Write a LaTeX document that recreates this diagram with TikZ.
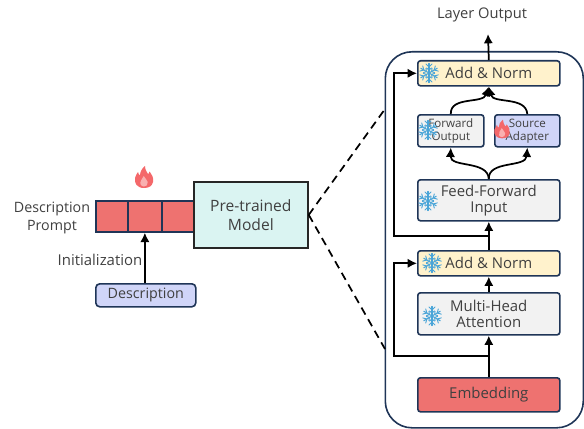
\documentclass[tikz,border=0pt]{standalone}
\usepackage{fontspec}
\setmainfont{Open Sans}
\usetikzlibrary{arrows.meta}
\definecolor{navy}{HTML}{1F3557}
\definecolor{txt}{HTML}{404040}
\definecolor{redf}{HTML}{EE7270}
\definecolor{yel}{HTML}{FFF2CC}
\definecolor{gry}{HTML}{F2F2F2}
\definecolor{blu}{HTML}{D0D5F8}
\definecolor{tea}{HTML}{DAF4F2}
\definecolor{ice}{HTML}{4AA5D8}
\definecolor{flm}{HTML}{F4686A}
\definecolor{flmi}{HTML}{F9B0B0}
\tikzset{
  x=0.75pt,y=-0.75pt,
  blk/.style={draw=navy,line width=1.2pt,rounded corners=2pt,text=txt,align=center,inner sep=0pt,anchor=north west},
  big/.style={font=\fontsize{11.2}{12}\selectfont},
  small/.style={font=\fontsize{8.7}{9.8}\selectfont},
  lbl/.style={text=txt,align=center,inner sep=0pt,font=\fontsize{10.7}{12.8}\selectfont},
  arr/.style={line width=1.3pt,-{Latex[length=7pt,width=7pt]}},
  dashline/.style={line width=1.3pt,dash pattern=on 6pt off 4pt},
  flake/.pic={
    \foreach \a in {0,60,...,300}{
      \begin{scope}[rotate=\a]
        \draw[ice,line width=.8pt,line cap=round] (0,0)--(0,-9.5);
        \draw[ice,line width=.7pt,line cap=round] (-3,-9)--(0,-6)--(3,-9);
        \draw[ice,line width=.7pt,line cap=round] (-2.5,-5)--(0,-3)--(2.5,-5);
      \end{scope}}
  },
  flame/.pic={
    \fill[flm] (0,11) .. controls (-7,11) and (-10,6) .. (-9,1)
      .. controls (-8.5,-2) and (-7,-3) .. (-6,-5)
      .. controls (-5.5,-3) and (-5,-2) .. (-4,-1.5)
      .. controls (-4,-5) and (-2,-9) .. (1,-11)
      .. controls (1,-7) and (3,-5) .. (4,-3)
      .. controls (4.7,-3) and (5,-4) .. (5.5,-5.5)
      .. controls (8,-2) and (10,1) .. (9,5)
      .. controls (8,9) and (5,11) .. (0,11) -- cycle;
    \fill[flmi] (0,9.5) .. controls (-3.5,9.5) and (-4.5,6) .. (-3,3.5)
      .. controls (-2,2) and (-1,1) .. (-0.3,-1)
      .. controls (1,1) and (3,3) .. (3.7,5)
      .. controls (4,8) and (2.5,9.5) .. (0,9.5) -- cycle;
  }
}
\begin{document}
\begin{tikzpicture}
\useasboundingbox (1,0) rectangle (585,428);
% outer panel
\node[draw=navy,line width=1.2pt,rounded corners=20pt,anchor=north west,inner sep=0pt,minimum width=198*0.75pt,minimum height=376*0.75pt] (panel) at (385.5,51) {};
% right-hand blocks
\node[blk,fill=yel,big,minimum width=142*0.75pt,minimum height=25*0.75pt] (norm2) at (418,60) {Add \& Norm};
\node[blk,fill=gry,small,minimum width=66*0.75pt,minimum height=32*0.75pt] (fwd) at (418,114) {Forward\\Output};
\node[blk,fill=blu,small,minimum width=65*0.75pt,minimum height=32*0.75pt] (src) at (495,114) {Source\\Adapter};
\node[blk,fill=gry,big,minimum width=142*0.75pt,minimum height=41*0.75pt] (ff) at (418,179) {Feed-Forward\\Input};
\node[blk,fill=yel,big,minimum width=142*0.75pt,minimum height=25*0.75pt] (norm1) at (418,250) {Add \& Norm};
\node[blk,fill=gry,big,minimum width=142*0.75pt,minimum height=42*0.75pt] (mha) at (418,292) {Multi-Head\\Attention};
\node[blk,fill=redf,big,minimum width=142*0.75pt,minimum height=34*0.75pt] (emb) at (418,377) {Embedding};
% left-hand blocks
\node[draw=navy,line width=1.3pt,fill=redf,anchor=north west,inner sep=0pt,minimum width=34*0.75pt,minimum height=31*0.75pt] (p1) at (96,200) {};
\node[draw=navy,line width=1.3pt,fill=redf,anchor=north west,inner sep=0pt,minimum width=34*0.75pt,minimum height=31*0.75pt] (p2) at (128,200) {};
\node[draw=navy,line width=1.3pt,fill=redf,anchor=north west,inner sep=0pt,minimum width=34*0.75pt,minimum height=31*0.75pt] (p3) at (162,200) {};
\node[draw=black!85,line width=1.3pt,fill=tea,text=txt,align=center,anchor=north west,inner sep=0pt,minimum width=114*0.75pt,minimum height=66*0.75pt,font=\fontsize{11.7}{14}\selectfont] (pre) at (194,181) {Pre-trained\\Model};
\node[blk,fill=blu,rounded corners=3pt,lbl,minimum width=100*0.75pt,minimum height=23*0.75pt] (desc) at (96,283) {Description};
% labels
\node[lbl] (dp) at (53,218) {Description\\Prompt};
\node[lbl,font=\fontsize{11.2}{13}\selectfont] (ini) at (101,260) {Initialization};
\node[lbl,font=\fontsize{11}{13}\selectfont] (out) at (483,14.5) {Layer Output};
\coordinate (outtip) at (489,34);
% connectors
\draw[arr] (desc.north -| p2.south) -- (p2.south);
\draw[arr] (norm2.north -| ff.north) -- (outtip);
\draw[arr] (emb.north) -- (mha.south);
\draw[arr] (mha.north) -- (norm1.south);
\draw[arr] (norm1.north) -- (ff.south);
\coordinate (j1) at (489,356);
\coordinate (j2) at (489,236);
\coordinate (sk1) at (395,356);
\coordinate (sk2) at (395,236);
\draw[arr] (j1) -- (sk1) |- (norm1.west);
\draw[arr] (j2) -- (sk2) |- (norm2.west);
\draw[arr] (ff.north) .. controls (489,160) and (451,168) .. (fwd.south);
\draw[arr] (ff.north) .. controls (489,160) and (527,168) .. (src.south);
\draw[arr] (fwd.north) .. controls (451,96) and (484,104) .. (norm2.south);
\draw[arr] (src.north) .. controls (527,96) and (494,104) .. (norm2.south);
\coordinate (dt) at (386,109);
\coordinate (db) at (386,349);
\draw[dashline] (pre.east) -- (dt);
\draw[dashline] (pre.east) -- (db);
% icons
\pic at (430,73) {flake};
\pic at (429,130) {flake};
\pic at (429,201) {flake};
\pic at (433,263) {flake};
\pic at (433,316) {flake};
\pic[scale=.85] at (503,129) {flame};
\pic at (145,177) {flame};
\end{tikzpicture}
\end{document}
